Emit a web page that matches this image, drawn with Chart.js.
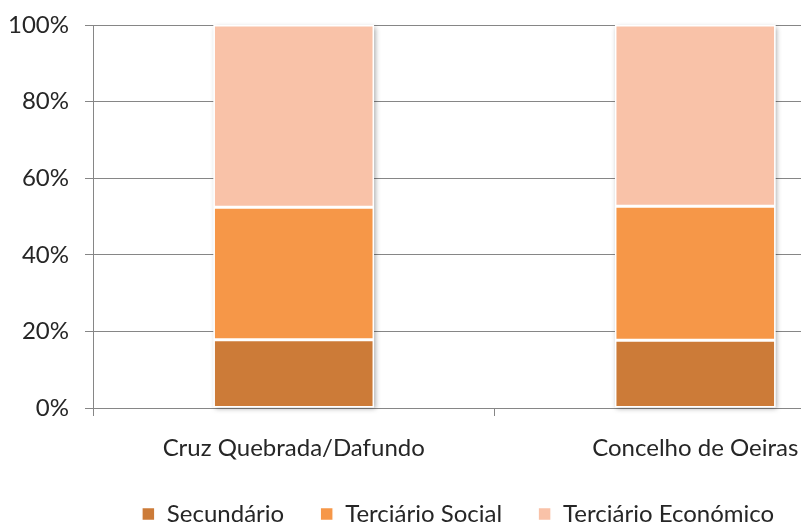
<!DOCTYPE html>
<html>
<head>
<meta charset="utf-8">
<script src="https://cdn.jsdelivr.net/npm/chart.js@4.4.1/dist/chart.umd.min.js"></script>
<style>
  html, body { margin: 0; padding: 0; background: #fff; overflow: hidden; }
  #wrap { width: 905px; height: 527px; }
</style>
</head>
<body>
<div id="wrap"><canvas id="chart" width="905" height="527"></canvas></div>
<script>
// Employment structure by sector (percentage of total)
const categories = ['Cruz Quebrada/Dafundo', 'Concelho de Oeiras'];
const secundario = [17.8, 17.7];
const terciarioSocial = [34.6, 35.0];
const terciarioEconomico = [47.6, 47.3];
const yTicks = [0, 20, 40, 60, 80, 100];

const FONT = 'Lato, "Liberation Sans", sans-serif';
const TEXT = '#262626';
const LINE = '#868686';

// Soft drop shadow behind each full stacked column
const columnShadow = {
  id: 'columnShadow',
  beforeDatasetsDraw(chart) {
    const n = chart.data.datasets.length;
    const first = chart.getDatasetMeta(0);
    const last = chart.getDatasetMeta(n - 1);
    const ctx = chart.ctx;
    first.data.forEach((el, i) => {
      const topEl = last.data[i];
      const w = el.width;
      const x = el.x - w / 2;
      const top = topEl.y;
      const bottom = el.base;
      ctx.save();
      ctx.shadowColor = 'rgba(0,0,0,0.35)';
      ctx.shadowBlur = 5;
      ctx.shadowOffsetX = 1.5;
      ctx.shadowOffsetY = 1.5;
      ctx.fillStyle = '#ffffff';
      ctx.fillRect(x, top, w, bottom - top);
      ctx.restore();
    });
  }
};

// Fixed legend band height at the bottom, nudged slightly to the right
const legendBand = {
  id: 'legendBand',
  afterInit(chart) {
    const lg = chart.legend;
    if (!lg) return;
    const fit = lg.fit.bind(lg);
    lg.fit = function () {
      fit();
      this.height = 61;
    };
  },
  afterLayout(chart) {
    const lg = chart.legend;
    if (!lg) return;
    lg.left += 10;
    lg.right += 10;
  }
};

const bar = (label, data, color) => ({
  label, data,
  backgroundColor: color,
  borderColor: '#ffffff',
  borderWidth: 1.5,
  borderSkipped: false,
  categoryPercentage: 1,
  barPercentage: 0.40
});

new Chart(document.getElementById('chart'), {
  type: 'bar',
  data: {
    labels: categories,
    datasets: [
      bar('Secundário', secundario, '#CC7B38'),
      bar('Terciário Social', terciarioSocial, '#F69748'),
      bar('Terciário Económico', terciarioEconomico, '#F9C2A8')
    ]
  },
  options: {
    responsive: false,
    animation: false,
    devicePixelRatio: 1,
    layout: { padding: { top: 25, right: 9, left: 0, bottom: 0 } },
    plugins: {
      title: { display: false },
      tooltip: { enabled: false },
      legend: {
        position: 'bottom',
        labels: {
          boxWidth: 13,
          boxHeight: 13,
          padding: 36,
          color: TEXT,
          font: { family: FONT, size: 24 }
        }
      }
    },
    scales: {
      x: {
        stacked: true,
        offset: true,
        grid: { display: true, offset: true, drawOnChartArea: false, drawTicks: true, tickLength: 8, color: LINE, lineWidth: 1 },
        border: { display: true, color: LINE, width: 1 },
        ticks: { color: TEXT, padding: 18, font: { family: FONT, size: 24 }, maxRotation: 0 },
        afterFit(scale) { scale.height = 58; }
      },
      y: {
        stacked: true,
        min: 0,
        max: 100,
        afterBuildTicks(scale) { scale.ticks = yTicks.map(v => ({ value: v })); },
        grid: { display: true, drawTicks: true, tickLength: 8, color: LINE, lineWidth: 1 },
        border: { display: true, color: LINE, width: 1 },
        ticks: {
          color: TEXT,
          padding: 16,
          font: { family: FONT, size: 24 },
          callback: v => v + '%'
        },
        afterFit(scale) {
          scale.width = 93;
          scale.paddingTop = 0;
          scale.paddingBottom = 0;
        }
      }
    }
  },
  plugins: [columnShadow, legendBand]
});
</script>
</body>
</html>
